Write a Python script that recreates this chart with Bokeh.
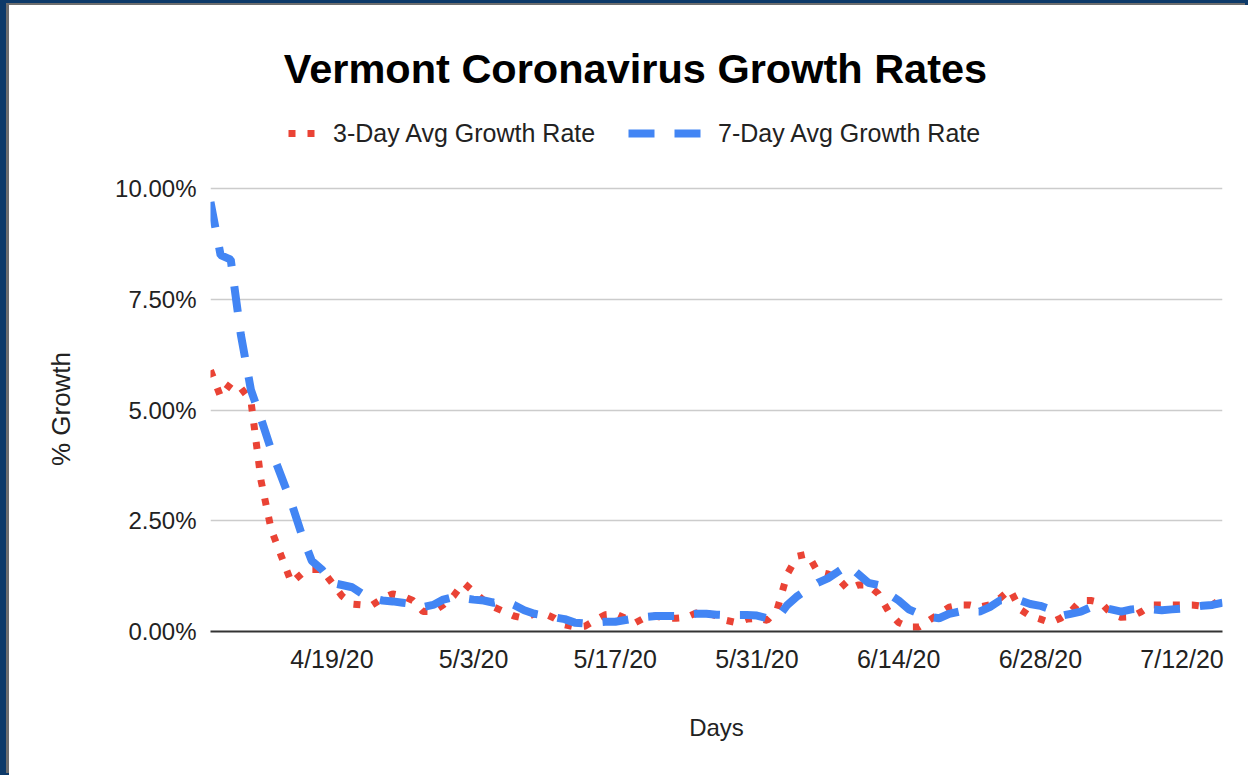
import pandas as pd
from bokeh.plotting import figure
from bokeh.layouts import column
from bokeh.models import (Legend, LegendItem, FixedTicker, PrintfTickFormatter,
                          ColumnDataSource, Range1d, GlobalInlineStyleSheet, Label)
from bokeh.embed import file_html
from bokeh.resources import INLINE

# ---------------- data ----------------
start_date = "2020-04-07"

three_day = [5.9, 5.3, 5.6, 5.5, 5.2, 3.4, 2.3, 1.7, 1.1, 1.3,
             1.4, 1.4, 1.1, 0.8, 0.62, 0.6, 0.6, 0.75, 0.85, 0.8,
             0.7, 0.45, 0.45, 0.6, 0.8, 1.1, 0.9, 0.7, 0.55, 0.45,
             0.35, 0.3, 0.4, 0.4, 0.3, 0.15, 0.1, 0.12, 0.25, 0.38,
             0.4, 0.3, 0.2, 0.32, 0.35, 0.3, 0.3, 0.32, 0.42, 0.42,
             0.35, 0.25, 0.2, 0.28, 0.3, 0.25, 0.5, 1.3, 1.7, 1.75,
             1.35, 1.3, 1.2, 0.95, 1.05, 1.05, 0.85, 0.45, 0.2, 0.1,
             0.1, 0.25, 0.4, 0.55, 0.6, 0.6, 0.55, 0.6, 0.75, 0.95,
             0.5, 0.35, 0.28, 0.2, 0.3, 0.45, 0.7, 0.7, 0.65, 0.4,
             0.32, 0.33, 0.45, 0.6, 0.6, 0.6, 0.6, 0.6, 0.57, 0.6, 0.75]

seven_day = [9.7, 8.5, 8.4, 6.7, 5.45, 4.8, 4.1, 3.5, 2.9, 2.2,
             1.6, 1.4, 1.1, 1.05, 1.0, 0.85, 0.75, 0.7, 0.68, 0.65,
             0.62, 0.55, 0.6, 0.72, 0.78, 0.75, 0.72, 0.7, 0.65, 0.7,
             0.6, 0.48, 0.4, 0.36, 0.32, 0.28, 0.2, 0.18, 0.2, 0.22,
             0.22, 0.26, 0.3, 0.33, 0.35, 0.35, 0.35, 0.38, 0.4, 0.4,
             0.38, 0.37, 0.37, 0.37, 0.36, 0.3, 0.3, 0.6, 0.8, 0.95,
             1.1, 1.2, 1.35, 1.5, 1.3, 1.1, 1.05, 0.85, 0.7, 0.5,
             0.4, 0.33, 0.3, 0.4, 0.45, 0.45, 0.45, 0.55, 0.7, 0.72,
             0.7, 0.62, 0.58, 0.5, 0.35, 0.4, 0.45, 0.55, 0.55, 0.5,
             0.45, 0.5, 0.52, 0.5, 0.48, 0.5, 0.52, 0.55, 0.58, 0.6, 0.65]

tick_dates = ["2020-04-19", "2020-05-03", "2020-05-17", "2020-05-31",
              "2020-06-14", "2020-06-28", "2020-07-12"]
tick_labels = ["4/19/20", "5/3/20", "5/17/20", "5/31/20",
               "6/14/20", "6/28/20", "7/12/20"]
y_ticks = [0, 2.5, 5, 7.5, 10]

series_names = ["3-Day Avg Growth Rate", "7-Day Avg Growth Rate"]
title_text = "Vermont Coronavirus Growth Rates"

# ---------------- styles ----------------
FONT = "Liberation Sans"
RED, BLUE = "#ea4335", "#4285f4"
red_style = dict(line_color=RED, line_width=7, line_dash="7 12")
blue_style = dict(line_color=BLUE, line_width=8, line_dash="26 20")
W = 1239
TOP_H = 163

dates = pd.date_range(start_date, periods=len(three_day), freq="D")
source = ColumnDataSource(dict(date=dates, three=three_day, seven=seven_day))

# ---------------- header figure (title + legend) ----------------
# its ranges keep the proxy lines out of view; they only feed the legend
top = figure(width=W, height=TOP_H, output_backend="svg", toolbar_location=None,
             x_axis_type="datetime",
             x_range=Range1d(dates[0], dates[-1]), y_range=Range1d(-20, -10),
             x_axis_location=None, y_axis_location=None,
             min_border_left=0, min_border_right=0,
             min_border_top=0, min_border_bottom=0)
top.grid.visible = False
top.outline_line_color = None
top.background_fill_color = "white"
top.border_fill_color = "white"

top.add_layout(Label(x=425, y=100, x_units="screen", y_units="screen",
                     text=title_text, text_font=FONT, text_font_size="41.5px",
                     text_font_style="bold", text_color="#000000",
                     text_align="center", text_baseline="alphabetic"))

leg_r3 = top.line("date", "three", source=source, **red_style)
leg_r7 = top.line("date", "seven", source=source, **blue_style)
common = dict(orientation="horizontal", padding=0, margin=0, spacing=0,
              border_line_color=None, background_fill_alpha=0,
              label_text_font=FONT, label_text_font_size="25px",
              label_text_color="#222222", glyph_height=30, label_height=30)
top.add_layout(Legend(items=[LegendItem(label=series_names[0], renderers=[leg_r3])],
                      location=(78, 20), glyph_width=28, label_standoff=17, **common),
               "center")
top.add_layout(Legend(items=[LegendItem(label=series_names[1], renderers=[leg_r7])],
                      location=(418, 20), glyph_width=74, label_standoff=16, **common),
               "center")

# ---------------- main chart ----------------
p = figure(width=W, height=607, x_axis_type="datetime",
           output_backend="svg", toolbar_location=None,
           x_range=Range1d(dates[0], dates[-1]), y_range=Range1d(0, 10.05),
           min_border_left=201, min_border_right=26,
           min_border_top=18, min_border_bottom=144)
p.outline_line_color = None
p.background_fill_color = "white"
p.border_fill_color = "white"

p.line("date", "three", source=source, **red_style)
p.line("date", "seven", source=source, **blue_style)

p.xaxis.ticker = FixedTicker(ticks=[pd.Timestamp(d).value / 1e6 for d in tick_dates])
p.xaxis.major_label_overrides = {pd.Timestamp(d).value / 1e6: l
                                 for d, l in zip(tick_dates, tick_labels)}
p.yaxis.ticker = FixedTicker(ticks=y_ticks)
p.yaxis.formatter = PrintfTickFormatter(format="%.2f%%")

for ax in (p.xaxis[0], p.yaxis[0]):
    ax.major_tick_line_color = None
    ax.minor_tick_line_color = None
    ax.major_label_text_font = FONT
    ax.major_label_text_color = "#222222"
    ax.axis_label_text_font = FONT
    ax.axis_label_text_font_style = "normal"
    ax.axis_label_text_color = "#222222"

p.xaxis.major_label_text_font_size = "25px"
p.yaxis.major_label_text_font_size = "24px"
p.xaxis.axis_label_text_font_size = "24px"
p.yaxis.axis_label_text_font_size = "26px"
p.xaxis.axis_line_color = "#333333"
p.xaxis.axis_line_width = 2
p.yaxis.axis_line_color = None
p.xaxis.major_label_standoff = 7
p.yaxis.major_label_standoff = 8
p.xaxis.axis_label = "Days"
p.yaxis.axis_label = "% Growth"
p.xaxis.axis_label_standoff = 38
p.yaxis.axis_label_standoff = 36

p.xgrid.visible = False
p.ygrid.grid_line_color = "#cccccc"
p.ygrid.grid_line_width = 1.5

layout = column(top, p, spacing=0,
                styles={"margin-left": "9px", "margin-top": "5px",
                        "box-shadow": "-3px -2px 0 0 #6e6e6e",
                        "background-color": "white"},
                stylesheets=[GlobalInlineStyleSheet(
                    css="html, body { background-color: #0d3a69 !important; }")])

open("out.html", "w").write(file_html(layout, INLINE))
